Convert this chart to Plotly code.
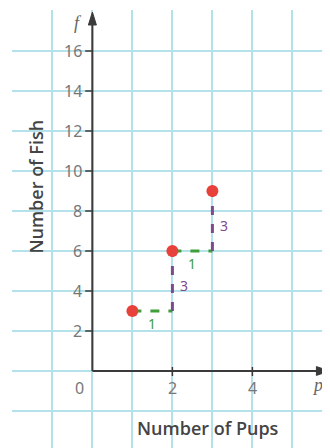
import plotly.graph_objects as go

# Data
pups = [1, 2, 3]
fish = [3, 6, 9]
run_labels = ["1", "1"]
rise_labels = ["3", "3"]
y_ticks = [2, 4, 6, 8, 10, 12, 14, 16]
x_ticks = [0, 2, 4]

grid_color = "#b3e2ea"
axis_color = "#3a3a3a"
green = "#3f9e3a"
purple = "#7d4a8e"
red = "#e8403a"
tick_font = dict(family="Liberation Sans Narrow, Noto Sans", size=16, color="#777777")

fig = go.Figure()

# step segments
for i in range(len(pups) - 1):
    fig.add_trace(go.Scatter(x=[pups[i], pups[i + 1]], y=[fish[i], fish[i]],
                             mode="lines", line=dict(color=green, width=3, dash="dash"),
                             hoverinfo="skip", showlegend=False))
    fig.add_trace(go.Scatter(x=[pups[i + 1], pups[i + 1]], y=[fish[i], fish[i + 1]],
                             mode="lines", line=dict(color=purple, width=3, dash="dash"),
                             hoverinfo="skip", showlegend=False))

fig.add_trace(go.Scatter(x=pups, y=fish, mode="markers",
                         marker=dict(color=red, size=12),
                         showlegend=False))

shapes = []
annotations = []
# axes
shapes.append(dict(type="line", xref="x", yref="y", x0=0, y0=0, x1=0, y1=17.5,
                   line=dict(color=axis_color, width=2)))
shapes.append(dict(type="line", xref="x", yref="y", x0=0, y0=0, x1=5.8, y1=0,
                   line=dict(color=axis_color, width=2)))
# arrowheads
shapes.append(dict(type="path", xref="x", yref="y",
                   path="M -0.1 17.3 L 0 17.95 L 0.1 17.3 Z",
                   fillcolor=axis_color, line=dict(color=axis_color, width=1)))
shapes.append(dict(type="path", xref="x", yref="y",
                   path="M 5.6 0.22 L 5.93 0 L 5.6 -0.22 Z",
                   fillcolor=axis_color, line=dict(color=axis_color, width=1)))

for t in y_ticks:
    shapes.append(dict(type="line", xref="x", yref="y", x0=-0.18, y0=t, x1=0, y1=t,
                       line=dict(color=axis_color, width=1.5)))
    annotations.append(dict(x=-0.2, y=t, xref="x", yref="y", text=str(t), showarrow=False,
                            xanchor="right", yanchor="middle", font=tick_font))
for t in x_ticks:
    if t != 0:
        shapes.append(dict(type="line", xref="x", yref="y", x0=t, y0=0.2, x1=t, y1=-0.25,
                           line=dict(color=axis_color, width=1.5)))
    annotations.append(dict(x=t if t != 0 else -0.33, y=-0.85, xref="x", yref="y", text=str(t),
                            showarrow=False, xanchor="center", yanchor="middle", font=tick_font))

# variable letters
annotations.append(dict(x=5.62, y=-0.7, xref="x", yref="y", text="<i>p</i>", showarrow=False,
                        font=dict(family="Liberation Serif", size=18, color="#666666")))
annotations.append(dict(x=-0.35, y=17.4, xref="x", yref="y", text="<i>f</i>", showarrow=False,
                        font=dict(family="Liberation Serif", size=18, color="#666666")))

# step labels
for i in range(len(pups) - 1):
    annotations.append(dict(x=(pups[i] + pups[i + 1]) / 2, y=fish[i] - 0.6, xref="x", yref="y",
                            text=run_labels[i], showarrow=False,
                            font=dict(family="Liberation Sans Narrow, Noto Sans", size=14, color=green)))
    annotations.append(dict(x=pups[i + 1] + 0.28, y=(fish[i] + fish[i + 1]) / 2 - 0.2, xref="x", yref="y",
                            text=rise_labels[i], showarrow=False,
                            font=dict(family="Liberation Sans Narrow, Noto Sans", size=14, color=purple)))

title_font = dict(family="Open Sans", size=18, color="#444444", weight=600)
annotations.append(dict(x=2.88, y=-2.85, xref="x", yref="y", text="Number of Pups", showarrow=False,
                        font=title_font))
annotations.append(dict(x=-1.42, y=9.2, xref="x", yref="y", text="Number of Fish", showarrow=False,
                        textangle=-90, font=title_font))

# page body has an 8px margin, so the figure is shifted by 8px and shrunk accordingly
fig.update_layout(
    width=322, height=440,
    margin=dict(l=4, r=0, t=2, b=0),
    paper_bgcolor="white", plot_bgcolor="white",
    shapes=shapes, annotations=annotations,
    xaxis=dict(range=[-2.01, 5.94], tick0=0, dtick=1, showgrid=True, gridcolor=grid_color,
               gridwidth=1.5, zeroline=False, showticklabels=False, ticks="", fixedrange=True),
    yaxis=dict(range=[-3.85, 18.05], tick0=0, dtick=2, showgrid=True, gridcolor=grid_color,
               gridwidth=1.5, zeroline=False, showticklabels=False, ticks="", fixedrange=True),
)

fig.write_html("out.html", config={"displayModeBar": False})
